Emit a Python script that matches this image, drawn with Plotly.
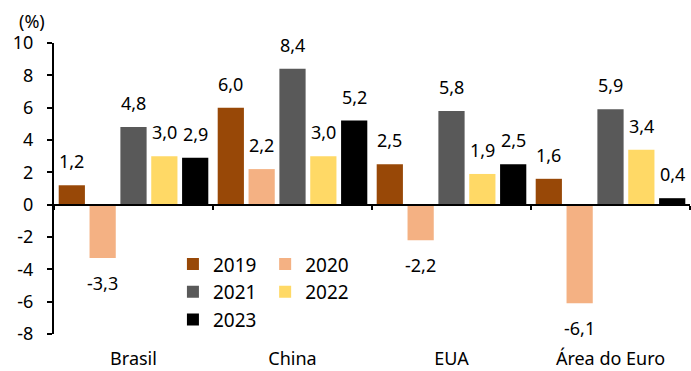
import plotly.graph_objects as go

# Crescimento do PIB por economia (% a.a.)
categories = ["Brasil", "China", "EUA", "Área do Euro"]
years = ["2019", "2020", "2021", "2022", "2023"]
values = {
    "2019": [1.2, 6.0, 2.5, 1.6],
    "2020": [-3.3, 2.2, -2.2, -6.1],
    "2021": [4.8, 8.4, 5.8, 5.9],
    "2022": [3.0, 3.0, 1.9, 3.4],
    "2023": [2.9, 5.2, 2.5, 0.4],
}
colors = {
    "2019": "#984807",
    "2020": "#F4B183",
    "2021": "#595959",
    "2022": "#FFD966",
    "2023": "#000000",
}
y_ticks = [-8, -6, -4, -2, 0, 2, 4, 6, 8, 10]
y_min, y_max = -8, 10

FONT = "Noto Sans"
SIZE = 18
BARGAP = 0.03


def fmt(v):
    return f"{v:.1f}".replace(".", ",")


fig = go.Figure()
for i, yr in enumerate(years):
    fig.add_trace(go.Bar(
        name=yr,
        x=categories,
        y=values[yr],
        marker=dict(color=colors[yr], line=dict(width=0)),
        legend="legend" if i % 2 == 0 else "legend2",
    ))

# value labels, centred over each bar of the group (category-index units)
slot = (1 - BARGAP) / len(years)
annotations = []
for i, yr in enumerate(years):
    offset = (i - (len(years) - 1) / 2) * slot
    for j, v in enumerate(values[yr]):
        annotations.append(dict(
            x=j + offset, y=v,
            xref="x", yref="y",
            text=fmt(v),
            showarrow=False,
            xanchor="center",
            yanchor="bottom" if v >= 0 else "top",
            yshift=10 if v >= 0 else -11,
            font=dict(size=SIZE, family=FONT, color="#000000"),
        ))

annotations.append(dict(
    text="(%)",
    xref="paper", yref="paper",
    x=-0.034, y=1.0,
    xanchor="center", yanchor="bottom",
    yshift=8,
    showarrow=False,
    font=dict(size=SIZE, family=FONT, color="#000000"),
))

legend_common = dict(
    font=dict(size=19, color="#000000", family=FONT),
    bgcolor="rgba(0,0,0,0)",
    traceorder="normal",
    itemwidth=30,
    xanchor="left",
    yanchor="top",
    yref="paper",
    xref="paper",
)

# category axis sits on the zero line, with ticks between groups
zero_pos = (0 - y_min) / (y_max - y_min)

fig.update_layout(
    width=691,
    height=371,
    margin=dict(l=54, r=1, t=43, b=37),
    paper_bgcolor="white",
    plot_bgcolor="white",
    barmode="group",
    bargap=BARGAP,
    bargroupgap=0.15,
    font=dict(family=FONT, size=SIZE, color="#000000"),
    showlegend=True,
    legend=dict(x=0.187, y=0.305, **legend_common),
    legend2=dict(x=0.332, y=0.305, **legend_common),
    xaxis=dict(
        anchor="free",
        position=zero_pos,
        showline=True,
        linecolor="#000000",
        linewidth=2,
        layer="above traces",
        showgrid=False,
        zeroline=False,
        ticks="outside",
        tickson="boundaries",
        ticklen=4,
        tickwidth=2,
        tickcolor="#000000",
        ticklabelstandoff=138,
        automargin=False,
        tickfont=dict(size=SIZE, family=FONT),
    ),
    yaxis=dict(
        range=[y_min, y_max],
        tickvals=y_ticks,
        ticktext=[str(t) for t in y_ticks],
        showline=True,
        linecolor="#000000",
        linewidth=2,
        ticks="outside",
        ticklen=5,
        tickwidth=2,
        tickcolor="#000000",
        showgrid=False,
        zeroline=True,
        zerolinecolor="#000000",
        zerolinewidth=2,
        ticklabelstandoff=10,
        automargin=False,
        tickfont=dict(size=SIZE, family=FONT),
    ),
    annotations=annotations,
)

fig.write_html("out.html")
